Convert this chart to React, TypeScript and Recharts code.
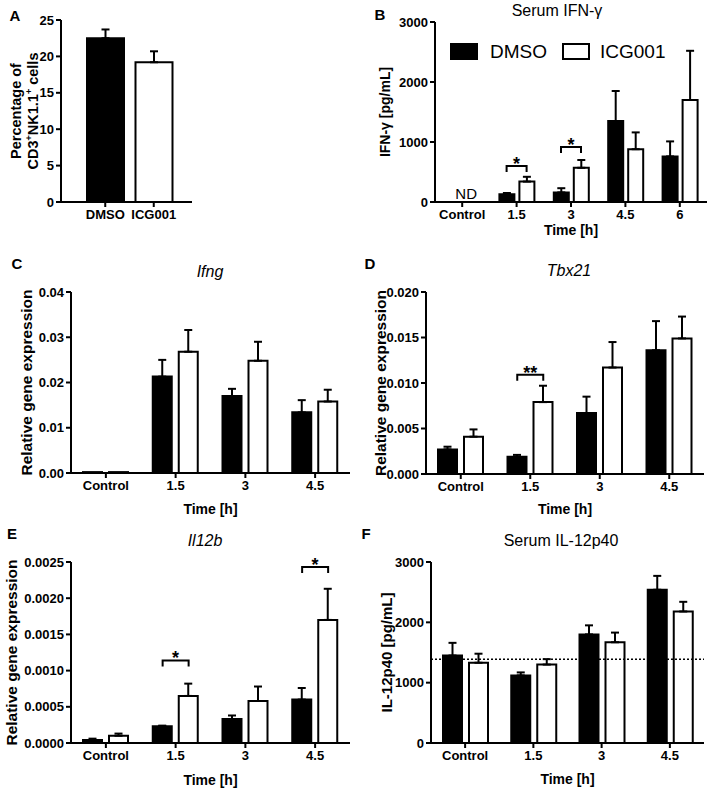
import React from "react";
import { BarChart, Bar, XAxis, YAxis, ErrorBar, Cell, ReferenceDot, ReferenceLine } from "recharts";

const FONT = "Arial, 'Liberation Sans', Helvetica, sans-serif";

// A: CD3+NK1.1+ cells
const groupsA = ["DMSO", "ICG001"];
const meanA = [22.5, 19.2];
const semA = [1.2, 1.5];

// B: serum IFN-γ (control not detected)
const timesB = ["Control", "1.5", "3", "4.5", "6"];
const ifnDmso = [null, 130, 160, 1350, 760];
const ifnDmsoSem = [0, 20, 70, 500, 250];
const ifnIcg = [null, 340, 570, 880, 1700];
const ifnIcgSem = [0, 80, 130, 280, 820];

// C-F share the time points
const times = ["Control", "1.5", "3", "4.5"];

const ifngDmso = [0.0002, 0.0213, 0.017, 0.0134];
const ifngDmsoSem = [0, 0.0037, 0.0016, 0.0027];
const ifngIcg = [0.0002, 0.0268, 0.0248, 0.0158];
const ifngIcgSem = [0, 0.0048, 0.0042, 0.0026];

const tbxDmso = [0.0027, 0.0019, 0.0067, 0.0136];
const tbxDmsoSem = [0.0003, 0.0002, 0.0018, 0.0032];
const tbxIcg = [0.0041, 0.0079, 0.0117, 0.0149];
const tbxIcgSem = [0.0008, 0.0018, 0.0028, 0.0024];

const il12Dmso = [0.00004, 0.00023, 0.00033, 0.0006];
const il12DmsoSem = [0.00002, 0.00001, 0.00005, 0.00016];
const il12Icg = [0.0001, 0.00065, 0.00058, 0.0017];
const il12IcgSem = [0.00003, 0.00017, 0.0002, 0.00043];

const p40Dmso = [1450, 1120, 1800, 2540];
const p40DmsoSem = [210, 50, 150, 230];
const p40Icg = [1330, 1300, 1670, 2180];
const p40IcgSem = [150, 90, 160, 160];
const p40Baseline = 1390;

const ticksA = [0, 5, 10, 15, 20, 25];
const ticksB = [0, 1000, 2000, 3000];
const ticksC = [0, 0.01, 0.02, 0.03, 0.04];
const ticksD = [0, 0.005, 0.01, 0.015, 0.02];
const ticksE = [0, 0.0005, 0.001, 0.0015, 0.002, 0.0025];
const ticksF = [0, 1000, 2000, 3000];

type Bracket = { x: string; y: number; mark: string };
const bracketsB: Bracket[] = [
  { x: "1.5", y: 600, mark: "*" },
  { x: "3", y: 917, mark: "*" },
];
const bracketsD: Bracket[] = [{ x: "1.5", y: 0.0109, mark: "**" }];
const bracketsE: Bracket[] = [
  { x: "1.5", y: 0.00114, mark: "*" },
  { x: "4.5", y: 0.00243, mark: "*" },
];

const err = (s: number) => (s ? [0, s] : null);

const buildRows = (cats: string[], a: (number | null)[], aSem: number[], b: (number | null)[], bSem: number[]) =>
  cats.map((cat, i) => ({
    cat,
    dmso: a[i],
    dmsoErr: a[i] == null ? null : err(aSem[i]),
    icg: b[i],
    icgErr: b[i] == null ? null : err(bSem[i]),
  }));

const axisStyle = { stroke: "#000", strokeWidth: 2 };
const tickStyle = { fill: "#000", fontSize: 13, fontWeight: 700, fontFamily: FONT };

const yTitle = (lines: React.ReactNode[], dx: number, size = 15, gap = 16) => (props: any) => {
  const vb = props.viewBox;
  const cy = vb.y + vb.height / 2;
  return (
    <g>
      {lines.map((l, i) => {
        const cx = vb.x + dx + i * gap;
        return (
          <text
            key={i}
            x={cx}
            y={cy}
            transform={`rotate(-90 ${cx} ${cy})`}
            textAnchor="middle"
            dominantBaseline="central"
            fontSize={size}
            fontWeight={700}
            fill="#000"
            fontFamily={FONT}
          >
            {l}
          </text>
        );
      })}
    </g>
  );
};

const xTitle = (text: string, dy: number) => (props: any) => {
  const vb = props.viewBox;
  return (
    <text
      x={vb.x + vb.width / 2}
      y={vb.y + dy}
      textAnchor="middle"
      dominantBaseline="central"
      fontSize={14}
      fontWeight={700}
      fill="#000"
      fontFamily={FONT}
    >
      {text}
    </text>
  );
};

function BracketMark({ cx, cy, half, mark }: { cx: number; cy: number; half: number; mark: string }) {
  return (
    <g>
      <path
        d={`M${cx - half},${cy + 6}V${cy}H${cx + half}V${cy + 6}`}
        fill="none"
        stroke="#000"
        strokeWidth={2}
      />
      <text x={cx} y={cy + 4} textAnchor="middle" fontSize={18} fontWeight={700} fill="#000" fontFamily={FONT}>
        {mark}
      </text>
    </g>
  );
}

interface PanelProps {
  left: number;
  top: number;
  width: number;
  height: number;
  marginTop: number;
  marginRight: number;
  yWidth: number;
  xHeight: number;
  rows: any[];
  ticks: number[];
  digits: number;
  yLines: React.ReactNode[];
  yDx: number;
  ySize?: number;
  xDy: number;
  barSize: number;
  barGap: number;
  brackets?: Bracket[];
  baseline?: number;
  nd?: string;
}

function Panel(p: PanelProps) {
  const half = (p.barSize + p.barGap) / 2;
  return (
    <div style={{ position: "absolute", left: p.left, top: p.top }}>
      <BarChart
        width={p.width}
        height={p.height}
        data={p.rows}
        margin={{ top: p.marginTop, right: p.marginRight, left: 0, bottom: 0 }}
        barSize={p.barSize}
        barGap={p.barGap}
        style={{ fontFamily: FONT }}
      >
        <XAxis
          dataKey="cat"
          height={p.xHeight}
          axisLine={axisStyle}
          tickLine={axisStyle}
          tickSize={5}
          tickMargin={3}
          tick={tickStyle}
          interval={0}
          label={xTitle("Time [h]", p.xDy)}
        />
        <YAxis
          width={p.yWidth}
          domain={[p.ticks[0], p.ticks[p.ticks.length - 1]]}
          ticks={p.ticks}
          tickFormatter={(v: number) => v.toFixed(p.digits)}
          axisLine={axisStyle}
          tickLine={axisStyle}
          tickSize={5}
          tickMargin={2}
          tick={tickStyle}
          interval={0}
          label={yTitle(p.yLines, p.yDx, p.ySize)}
        />
        {p.baseline != null && (
          <ReferenceLine y={p.baseline} stroke="#000" strokeWidth={1.5} strokeDasharray="2 2" />
        )}
        <Bar dataKey="dmso" fill="#000" stroke="#000" strokeWidth={2} isAnimationActive={false}>
          <ErrorBar dataKey="dmsoErr" width={4} stroke="#000" strokeWidth={2} isAnimationActive={false} />
        </Bar>
        <Bar dataKey="icg" fill="#fff" stroke="#000" strokeWidth={2} isAnimationActive={false}>
          <ErrorBar dataKey="icgErr" width={4} stroke="#000" strokeWidth={2} isAnimationActive={false} />
        </Bar>
        {(p.brackets || []).map((b) => (
          <ReferenceDot
            key={`${b.x}-${b.y}`}
            x={b.x}
            y={b.y}
            r={0}
            shape={(s: any) => <BracketMark cx={s.cx} cy={s.cy} half={half} mark={b.mark} />}
          />
        ))}
        {p.nd && (
          <ReferenceDot
            x={p.nd}
            y={0}
            r={0}
            shape={(s: any) => (
              <text x={s.cx + 4} y={s.cy - 9} textAnchor="middle" dominantBaseline="central" fontSize={15} fill="#000" fontFamily={FONT}>
                ND
              </text>
            )}
          />
        )}
      </BarChart>
    </div>
  );
}

function PanelA() {
  const rows = groupsA.map((g, i) => ({ cat: g, value: meanA[i], valueErr: [0, semA[i]] }));
  return (
    <div style={{ position: "absolute", left: 0, top: 0 }}>
      <BarChart
        width={200}
        height={240}
        data={rows}
        margin={{ top: 20, right: 8, left: 0, bottom: 0 }}
        barSize={37}
        style={{ fontFamily: FONT }}
      >
        <XAxis
          dataKey="cat"
          height={38}
          axisLine={axisStyle}
          tickLine={axisStyle}
          tickSize={5}
          tickMargin={3}
          tick={tickStyle}
          interval={0}
          padding={{ left: 20, right: 14 }}
        />
        <YAxis
          width={61}
          domain={[0, 25]}
          ticks={ticksA}
          axisLine={axisStyle}
          tickLine={axisStyle}
          tickSize={5}
          tickMargin={2}
          tick={tickStyle}
          interval={0}
          label={yTitle(
            [
              "Percentage of",
              <>
                CD3<tspan dy={-4} fontSize={9}>+</tspan>
                <tspan dy={4}>NK1.1</tspan>
                <tspan dy={-4} fontSize={9}>+</tspan>
                <tspan dy={4}> cells</tspan>
              </>,
            ],
            16,
            14.5,
            17,
          )}
        />
        <Bar dataKey="value" stroke="#000" strokeWidth={2} isAnimationActive={false}>
          <Cell fill="#000" />
          <Cell fill="#fff" />
          <ErrorBar dataKey="valueErr" width={4} stroke="#000" strokeWidth={2} isAnimationActive={false} />
        </Bar>
      </BarChart>
    </div>
  );
}

const Txt = ({ x, y, size, bold, italic, children }: any) => (
  <div
    style={{
      position: "absolute",
      left: x,
      top: y,
      transform: "translate(-50%, -50%)",
      fontFamily: FONT,
      fontSize: size,
      fontWeight: bold ? 700 : 400,
      fontStyle: italic ? "italic" : "normal",
      whiteSpace: "nowrap",
      lineHeight: 1,
      color: "#000",
    }}
  >
    {children}
  </div>
);

export default function App() {
  return (
    <div style={{ position: "absolute", left: 0, top: 0, width: 708, height: 790, background: "#fff", overflow: "hidden" }}>
      <PanelA />
      <Panel
        left={340} top={0} width={368} height={240}
        marginTop={22} marginRight={1} yWidth={95} xHeight={38}
        rows={buildRows(timesB, ifnDmso, ifnDmsoSem, ifnIcg, ifnIcgSem)}
        ticks={ticksB} digits={0}
        yLines={["IFN-γ [pg/mL]"]} yDx={45} ySize={14} xDy={28}
        barSize={15} barGap={5}
        brackets={bracketsB} nd="Control"
      />
      <Panel
        left={0} top={250} width={354} height={280}
        marginTop={42} marginRight={4} yWidth={71} xHeight={57}
        rows={buildRows(times, ifngDmso, ifngDmsoSem, ifngIcg, ifngIcgSem)}
        ticks={ticksC} digits={2}
        yLines={["Relative gene expression"]} yDx={26} ySize={15.5} xDy={36}
        barSize={19} barGap={7}
      />
      <Panel
        left={354} top={250} width={354} height={280}
        marginTop={42} marginRight={4} yWidth={72} xHeight={56}
        rows={buildRows(times, tbxDmso, tbxDmsoSem, tbxIcg, tbxIcgSem)}
        ticks={ticksD} digits={3}
        yLines={["Relative gene expression"]} yDx={26} ySize={15.5} xDy={35}
        barSize={19} barGap={7}
        brackets={bracketsD}
      />
      <Panel
        left={0} top={520} width={354} height={270}
        marginTop={42} marginRight={4} yWidth={71} xHeight={47}
        rows={buildRows(times, il12Dmso, il12DmsoSem, il12Icg, il12IcgSem)}
        ticks={ticksE} digits={4}
        yLines={["Relative gene expression"]} yDx={11} ySize={15.5} xDy={37}
        barSize={19} barGap={7}
        brackets={bracketsE}
      />
      <Panel
        left={354} top={520} width={354} height={270}
        marginTop={42} marginRight={4} yWidth={77} xHeight={47}
        rows={buildRows(times, p40Dmso, p40DmsoSem, p40Icg, p40IcgSem)}
        ticks={ticksF} digits={0}
        yLines={["IL-12p40 [pg/mL]"]} yDx={32} ySize={15} xDy={36}
        barSize={19} barGap={7}
        baseline={p40Baseline}
      />

      {/* panel letters */}
      <Txt x={15} y={15} size={15} bold>A</Txt>
      <Txt x={380} y={14} size={15} bold>B</Txt>
      <Txt x={17} y={263} size={15} bold>C</Txt>
      <Txt x={370} y={263} size={15} bold>D</Txt>
      <Txt x={12} y={533} size={15} bold>E</Txt>
      <Txt x={366} y={533} size={15} bold>F</Txt>

      {/* titles */}
      <Txt x={557} y={11} size={16}>Serum IFN-γ</Txt>
      <Txt x={210} y={272} size={16} italic>Ifng</Txt>
      <Txt x={569} y={271} size={16} italic>Tbx21</Txt>
      <Txt x={205} y={541} size={16} italic>Il12b</Txt>
      <Txt x={561} y={541} size={16}>Serum IL-12p40</Txt>

      {/* legend for B */}
      <div style={{ position: "absolute", left: 450, top: 43, width: 28, height: 17, background: "#000" }} />
      <div style={{ position: "absolute", left: 490, top: 42, fontFamily: FONT, fontSize: 19, lineHeight: "20px" }}>DMSO</div>
      <div style={{ position: "absolute", left: 562, top: 43, width: 24, height: 13, border: "2px solid #000", background: "#fff" }} />
      <div style={{ position: "absolute", left: 600, top: 42, fontFamily: FONT, fontSize: 19, lineHeight: "20px" }}>ICG001</div>
    </div>
  );
}
